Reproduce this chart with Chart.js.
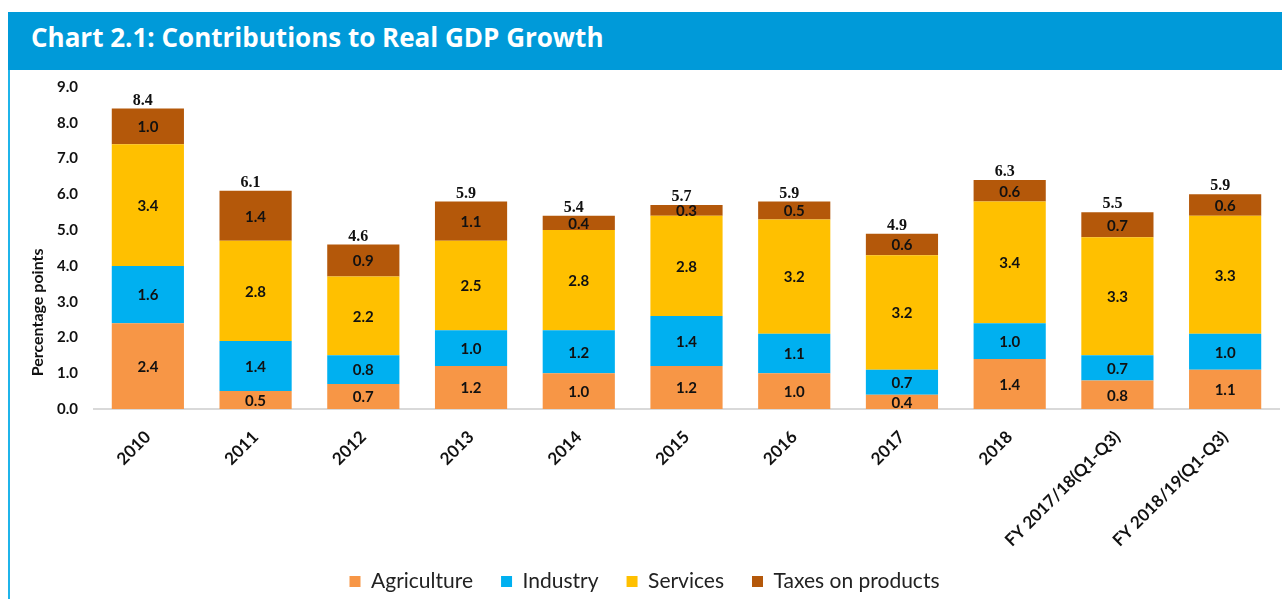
<!DOCTYPE html>
<html>
<head>
<meta charset="utf-8">
<script src="https://cdn.jsdelivr.net/npm/chart.js@4"></script>
<style>
  html, body { margin: 0; padding: 0; background: #fff; overflow: hidden; }
  #head {
    position: absolute; left: 8px; top: 12px; width: 1274px; height: 58px;
    background: #009ad9; color: #fff;
    font: bold 26px "Open Sans", sans-serif; line-height: 50px;
    box-sizing: border-box; padding-left: 23px; white-space: nowrap;
  }
  #edge { position: absolute; left: 8px; top: 70px; width: 2px; height: 529px; background: #1fb4ea; }
  #wrap { position: absolute; left: 10px; top: 62px; width: 1272px; height: 556px; }
</style>
</head>
<body>
<div id="head">Chart 2.1: Contributions to Real GDP Growth</div>
<div id="edge"></div>
<div id="wrap"><canvas id="c"></canvas></div>
<script>
// values, percentage points
var categories = ['2010', '2011', '2012', '2013', '2014', '2015', '2016', '2017', '2018',
                  'FY 2017/18(Q1-Q3)', 'FY 2018/19(Q1-Q3)'];
var agriculture = [2.4, 0.5, 0.7, 1.2, 1.0, 1.2, 1.0, 0.4, 1.4, 0.8, 1.1];
var industry    = [1.6, 1.4, 0.8, 1.0, 1.2, 1.4, 1.1, 0.7, 1.0, 0.7, 1.0];
var services    = [3.4, 2.8, 2.2, 2.5, 2.8, 2.8, 3.2, 3.2, 3.4, 3.3, 3.3];
var taxes       = [1.0, 1.4, 0.9, 1.1, 0.4, 0.3, 0.5, 0.6, 0.6, 0.7, 0.6];
var totals      = [8.4, 6.1, 4.6, 5.9, 5.4, 5.7, 5.9, 4.9, 6.3, 5.5, 5.9];
var yTicks      = [0, 1, 2, 3, 4, 5, 6, 7, 8, 9];
var yTitle      = 'Percentage points';

var ink = '#111';

// segment values inside the bars, totals above each stack, y title (sits low like the original)
var barLabels = {
  id: 'barLabels',
  afterDatasetsDraw: function (chart) {
    var ctx = chart.ctx;
    ctx.save();
    ctx.fillStyle = ink;
    ctx.textAlign = 'center';
    ctx.textBaseline = 'middle';
    ctx.font = 'bold 15px Lato';
    chart.data.datasets.forEach(function (ds, i) {
      chart.getDatasetMeta(i).data.forEach(function (bar, j) {
        ctx.fillText(ds.data[j].toFixed(1), bar.x, (bar.y + bar.base) / 2 + 1);
      });
    });
    var top = chart.getDatasetMeta(chart.data.datasets.length - 1).data;
    ctx.font = 'bold 16px "Liberation Serif"';
    ctx.textBaseline = 'bottom';
    totals.forEach(function (t, j) {
      ctx.fillText(t.toFixed(1), top[j].x - 5, top[j].y);
    });
    // axis title
    var y = chart.scales.y;
    ctx.translate(y.left + 28, y.getPixelForValue(2.7));
    ctx.rotate(-Math.PI / 2);
    ctx.textBaseline = 'middle';
    ctx.font = 'bold 16px Lato';
    ctx.fillText(yTitle, 0, 0);
    ctx.restore();
  }
};

// the legend overlaps the bottom of the x-label box, as in the original
var liftLegend = {
  id: 'liftLegend',
  afterLayout: function (chart) {
    chart.legend.top -= 16;
    chart.legend.bottom -= 16;
  }
};

new Chart(document.getElementById('c'), {
  type: 'bar',
  data: {
    labels: categories,
    datasets: [
      { label: 'Agriculture', data: agriculture, backgroundColor: '#f79646' },
      { label: 'Industry', data: industry, backgroundColor: '#00b0f0' },
      { label: 'Services', data: services, backgroundColor: '#ffc000' },
      { label: 'Taxes on products', data: taxes, backgroundColor: '#b4580a' }
    ]
  },
  options: {
    responsive: true,
    maintainAspectRatio: false,
    animation: false,
    layout: { padding: { top: 8, right: 3, left: 0, bottom: 0 } },
    datasets: { bar: { categoryPercentage: 1, barPercentage: 0.67 } },
    plugins: {
      legend: {
        position: 'bottom',
        labels: {
          boxWidth: 11, boxHeight: 11, padding: 28,
          color: '#222', font: { family: 'Lato', size: 21 }
        }
      },
      tooltip: { enabled: false }
    },
    scales: {
      x: {
        stacked: true,
        grid: { display: false, drawTicks: false },
        border: { display: true, color: '#d9d9d9', width: 2 },
        ticks: {
          color: ink, maxRotation: 45, minRotation: 45, padding: 18,
          font: { family: 'Lato', size: 17, weight: 'bold' }
        },
        afterFit: function (s) { s.height = 150; }
      },
      y: {
        stacked: true,
        min: 0, max: 9,
        grid: { display: false, drawTicks: false },
        border: { display: false },
        afterBuildTicks: function (s) { s.ticks = yTicks.map(function (v) { return { value: v }; }); },
        ticks: {
          color: ink, padding: 16,
          font: { family: 'Lato', size: 15, weight: 'bold' },
          callback: function (v) { return Number(v).toFixed(1); }
        },
        afterFit: function (s) { s.width = 84; }
      }
    }
  },
  plugins: [barLabels, liftLegend]
});
</script>
</body>
</html>
